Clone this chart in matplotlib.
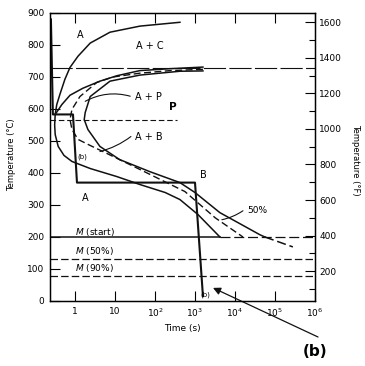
import matplotlib

matplotlib.use("Agg")
import matplotlib.pyplot as plt  # noqa: E402
from matplotlib.ticker import FixedLocator, MultipleLocator, NullLocator  # noqa: E402

# --- data (time in s, temperature in degC) ---
ac_time = [0.32, 0.35, 0.42, 0.56, 0.75, 1.19, 2.4, 7.5, 42, 420]
ac_temp = [583, 614, 646, 693, 730, 765, 806, 840, 859, 871]

start_time = [1580, 240, 42, 11.2, 4.2, 1.58, 0.75, 0.47, 0.32, 0.31, 0.32,
              0.38, 0.53, 0.84, 2.4, 11, 42, 180, 420, 1190, 4200]
start_temp = [731, 726, 720, 704, 687, 665, 643, 614, 583, 550, 520,
              483, 455, 436, 414, 389, 364, 339, 317, 270, 200]

half_time = [1580, 240, 42, 8.9, 3.5, 1.33, 0.84, 0.75, 0.84, 1.19, 2.4,
             5.0, 42, 560, 3200, 15800]
half_temp = [724, 720, 712, 700, 683, 639, 599, 567, 536, 505, 486,
             467, 411, 342, 260, 200]

finish_time = [1580, 420, 42, 7.5, 2.4, 1.8, 1.7, 2.1, 4.2, 13, 75, 420,
               1000, 4200, 42000, 56000]
finish_temp = [719, 718, 706, 687, 639, 589, 567, 536, 483, 442, 404, 370,
               339, 276, 207, 200]
finish_tail_time = [56000, 280000]
finish_tail_temp = [200, 169]

path_time = [0.25, 0.28, 0.89, 1.12, 1000, 1580]
path_temp = [880, 583, 583, 370, 370, 15]

T_EUTECTOID = 727
T_BAINITE_LINE = 567
T_MS, T_M50, T_M90 = 200, 132, 78
MS_SOLID_END = 4200
BAINITE_LINE_END = 355

x_ticks = [1, 10, 1e2, 1e3, 1e4, 1e5, 1e6]
x_labels = ["1", "10", "10$^2$", "10$^3$", "10$^4$", "10$^5$", "10$^6$"]

XMIN, XMAX = 10 ** -0.625, 1e6

fig = plt.figure(figsize=(3.65, 3.66), dpi=100)
ax = fig.add_axes([50 / 365, 1 - 301 / 366, 265 / 365, 288 / 366])
ax.set_xscale("log")
ax.set_xlim(XMIN, XMAX)
ax.set_ylim(0, 900)

k = "#111111"
ax.plot(ac_time, ac_temp, color=k, lw=1.1)
ax.plot(start_time, start_temp, color=k, lw=1.1)
ax.plot(half_time, half_temp, color=k, lw=1.0, ls=(0, (5, 2.5)))
ax.plot(finish_time, finish_temp, color=k, lw=1.1)
ax.plot(finish_tail_time, finish_tail_temp, color=k, lw=1.1, ls=(0, (6, 2.5)))
ax.plot(path_time, path_temp, color=k, lw=1.5)

# horizontal reference lines
ax.plot([XMIN, XMAX], [T_EUTECTOID] * 2, color=k, lw=0.8, ls=(0, (20, 3)))
ax.plot([XMIN, BAINITE_LINE_END], [T_BAINITE_LINE] * 2, color=k, lw=0.8, ls=(0, (5, 2.5)))
ax.plot([XMIN, MS_SOLID_END], [T_MS] * 2, color=k, lw=1.1)
ax.plot([MS_SOLID_END, XMAX], [T_MS] * 2, color=k, lw=0.9, ls=(0, (8, 3)))
ax.plot([XMIN, XMAX], [T_M50] * 2, color=k, lw=0.9, ls=(0, (6, 2.5)))
ax.plot([XMIN, XMAX], [T_M90] * 2, color=k, lw=0.9, ls=(0, (6, 2.5)))

# region labels
fs = 7
ax.text(1.33, 831, "A", fontsize=fs, ha="center", va="center")
ax.text(75, 796, "A + C", fontsize=fs, ha="center", va="center")
ax.text(67, 636, "A + P", fontsize=fs, ha="center", va="center")
ax.text(282, 605, "P", fontsize=7.5, ha="center", va="center", fontweight="bold")
ax.text(71, 514, "A + B", fontsize=fs, ha="center", va="center")
ax.text(1585, 395, "B", fontsize=fs, ha="center", va="center")
ax.text(1.78, 323, "A", fontsize=fs, ha="center", va="center")
ax.text(1.5, 451, "(b)", fontsize=5, ha="center", va="center")
ax.text(1780, 19, "(b)", fontsize=5, ha="center", va="center")
ax.text(1.0, 216, "$M$ (start)", fontsize=6.5, ha="left", va="center")
ax.text(1.0, 157, "$M$ (50%)", fontsize=6.5, ha="left", va="center")
ax.text(1.0, 103, "$M$ (90%)", fontsize=6.5, ha="left", va="center")
ax.text(35500, 282, "50%", fontsize=6.5, ha="center", va="center")

lead = dict(arrowstyle="-", color=k, lw=0.8, shrinkA=0, shrinkB=0)
ax.annotate("", xy=(1.8, 624), xytext=(24, 640),
            arrowprops=dict(lead, connectionstyle="arc3,rad=0.2"))
ax.annotate("", xy=(4.2, 467), xytext=(25, 514),
            arrowprops=dict(lead, connectionstyle="arc3,rad=-0.1"))
ax.annotate("", xy=(4700, 254), xytext=(15800, 282),
            arrowprops=dict(lead, connectionstyle="arc3,rad=-0.1"))

# ticks
ax.xaxis.set_major_locator(FixedLocator(x_ticks))
ax.xaxis.set_minor_locator(NullLocator())
ax.set_xticklabels(x_labels)
ax.yaxis.set_major_locator(MultipleLocator(100))
ax.tick_params(axis="x", which="both", direction="in", top=True, length=7,
               width=0.8, labelsize=6.5, pad=4)
ax.tick_params(axis="y", direction="in", length=7, width=0.8,
               labelsize=6.5, pad=4)
for s in ax.spines.values():
    s.set_linewidth(1.0)

ax2 = ax.twinx()
ax2.set_ylim(0 * 1.8 + 32, 900 * 1.8 + 32)
ax2.yaxis.set_major_locator(MultipleLocator(200))
ax2.yaxis.set_minor_locator(MultipleLocator(100))
ax2.tick_params(axis="y", which="major", direction="in", length=7,
                width=0.8, labelsize=6.5, pad=3)
ax2.tick_params(axis="y", which="minor", direction="in", length=4, width=0.8)

fig.text(12 / 365, 1 - 155 / 366, "Temperature (°C)", rotation=90,
         fontsize=6, ha="center", va="center")
fig.text(356 / 365, 1 - 160 / 366, "Temperature (°F)", rotation=270,
         fontsize=6, ha="center", va="center")
fig.text(182 / 365, 1 - 328 / 366, "Time (s)", fontsize=6.5,
         ha="center", va="center")

fig.text(315 / 365, 1 - 351 / 366, "(b)", fontsize=11, fontweight="bold",
         ha="center", va="center")
ax.annotate("", xy=(10 ** 3.45, 41), xytext=(318, 366 - 337),
            textcoords="figure pixels", annotation_clip=False,
            arrowprops=dict(arrowstyle="-|>", color=k, lw=0.9,
                            mutation_scale=11, shrinkA=0, shrinkB=0))

fig.savefig("out.png", dpi=100)
